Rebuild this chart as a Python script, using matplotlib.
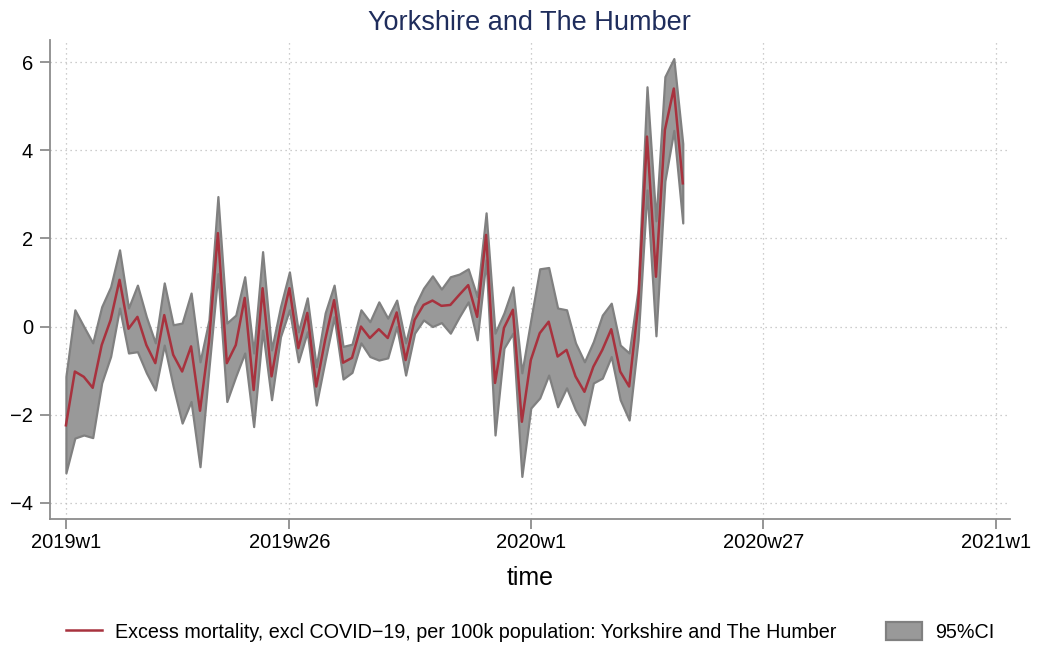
import numpy as np
import matplotlib
matplotlib.use("Agg")
import matplotlib.pyplot as plt
from matplotlib.lines import Line2D
from matplotlib.patches import Patch

plt.rcParams['font.family'] = ['Liberation Sans', 'DejaVu Sans']

# weekly excess mortality, Stata-style week index (0 = 2019w1)
start_week = 0
excess = [-2.24, -1.02, -1.14, -1.39, -0.42, 0.15, 1.06, -0.05, 0.22, -0.42,
          -0.83, 0.26, -0.64, -1.02, -0.45, -1.91, -0.35, 2.12, -0.83, -0.42,
          0.65, -1.44, 0.87, -1.13, 0.00, 0.87, -0.49, 0.31, -1.36, -0.30,
          0.60, -0.82, -0.71, 0.00, -0.26, -0.06, -0.26, 0.32, -0.76, 0.15,
          0.49, 0.59, 0.47, 0.49, 0.72, 0.94, 0.22, 2.08, -1.28, -0.03,
          0.38, -2.16, -0.76, -0.15, 0.11, -0.68, -0.53, -1.13, -1.48, -0.91,
          -0.53, -0.06, -1.02, -1.36, 0.45, 4.31, 1.13, 4.46, 5.40, 3.25]
ci_upper = [-1.13, 0.38, 0.00, -0.37, 0.45, 0.90, 1.74, 0.42, 0.94, 0.22,
            -0.37, 0.99, 0.04, 0.08, 0.76, -0.80, 0.15, 2.95, 0.08, 0.26,
            1.13, -0.60, 1.70, -0.53, 0.45, 1.24, -0.12, 0.65, -0.91, 0.31,
            0.94, -0.45, -0.40, 0.38, 0.11, 0.56, 0.19, 0.60, -0.37, 0.45,
            0.87, 1.15, 0.85, 1.13, 1.19, 1.31, 0.68, 2.58, -0.15, 0.31,
            0.90, -1.05, 0.15, 1.31, 1.34, 0.42, 0.38, -0.37, -0.80, -0.34,
            0.26, 0.53, -0.42, -0.60, 0.85, 5.44, 2.40, 5.67, 6.08, 4.15]
ci_lower = [-3.32, -2.53, -2.46, -2.52, -1.28, -0.68, 0.42, -0.60, -0.57, -1.05,
            -1.44, -0.42, -1.36, -2.19, -1.70, -3.18, -0.95, 1.20, -1.70, -1.13,
            -0.60, -2.27, -0.08, -1.66, -0.23, 0.38, -0.80, -0.12, -1.78, -0.76,
            0.22, -1.19, -1.04, -0.37, -0.68, -0.76, -0.71, 0.00, -1.10, -0.15,
            0.15, 0.00, 0.09, -0.15, 0.22, 0.56, -0.30, 1.51, -2.46, -0.49,
            -0.15, -3.40, -1.85, -1.62, -1.10, -1.82, -1.39, -1.89, -2.23, -1.28,
            -1.17, -0.68, -1.66, -2.12, -0.30, 3.10, -0.21, 3.30, 4.45, 2.35]

tick_weeks = [0, 25, 52, 78, 104]
tick_labels = ['2019w1', '2019w26', '2020w1', '2020w27', '2021w1']
y_ticks = [-4, -2, 0, 2, 4, 6]

weeks = start_week + np.arange(len(excess))

fig = plt.figure(figsize=(10.38, 6.46), dpi=100)
ax = fig.add_axes([0.048, 0.197, 0.925, 0.741])

ax.fill_between(weeks, ci_lower, ci_upper, facecolor='#999999',
                edgecolor='#808080', linewidth=1.6, zorder=2)
ax.plot(weeks, excess, color='#a8323e', linewidth=1.8, zorder=3)

ax.set_xlim(-1.8, 105.6)
ax.set_ylim(-4.36, 6.5)
ax.set_xticks(tick_weeks)
ax.set_xticklabels(tick_labels)
ax.set_yticks(y_ticks)

ax.grid(True, color='#bdbdbd', linestyle=(0, (1, 3)), linewidth=0.9, zorder=0)
for s in ['top', 'right']:
    ax.spines[s].set_visible(False)
for s in ['left', 'bottom']:
    ax.spines[s].set_color('#8c8c8c')
    ax.spines[s].set_linewidth(1.3)
ax.tick_params(axis='both', colors='#8c8c8c', length=7, width=1.3,
               labelcolor='black', labelsize=14.5)
ax.tick_params(axis='y', pad=5)

ax.set_title('Yorkshire and The Humber', fontsize=19.5, color='#1f2d5c', pad=7)
ax.set_xlabel('time', fontsize=18, labelpad=10)

handles = [Line2D([0], [0], color='#a8323e', linewidth=1.8),
           Patch(facecolor='#999999', edgecolor='#808080', linewidth=1.6)]
labels = ['Excess mortality, excl COVID\u221219, per 100k population: Yorkshire and The Humber',
          '95%CI']
fig.legend(handles, labels, loc='center', bbox_to_anchor=(0.511, 0.022), ncol=2,
           frameon=False, fontsize=14.2, handlelength=1.8, handleheight=1.0,
           handletextpad=0.7, columnspacing=2.5)

fig.savefig('out.png', dpi=100)
